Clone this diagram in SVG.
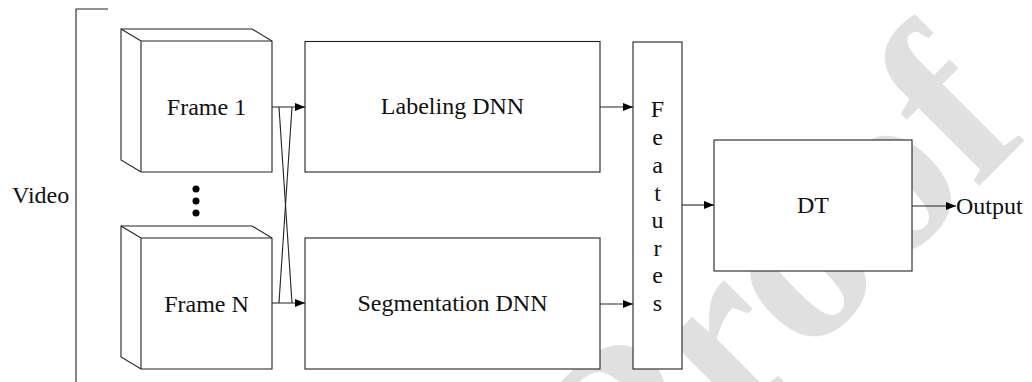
<svg xmlns="http://www.w3.org/2000/svg" width="1032" height="382" viewBox="0 0 1032 382">
  <style>
    .box { fill: #fff; stroke: #222; stroke-width: 1.1; }
    .edge { fill: none; stroke: #222; stroke-width: 1.1; }
    .lbl { font-family: "Liberation Serif", "Times New Roman", serif; font-size: 24px; fill: #111; }
    .mid { text-anchor: middle; }
    .wm { font-family: "Liberation Serif", "Times New Roman", serif; font-size: 240px; font-weight: bold; fill: #e0e0e0; }
  </style>
  <defs>
    <marker id="arr" viewBox="0 0 10 8" refX="10" refY="4" markerWidth="10" markerHeight="8" markerUnits="userSpaceOnUse" orient="auto">
      <path d="M0,0 L10,4 L0,8 Z" fill="#000"/>
    </marker>
  </defs>

  <!-- background stamp -->
  <text class="wm" transform="translate(629,536) rotate(-45)">Proof</text>

  <!-- bracket enclosing the frames -->
  <path class="edge" d="M108,9 H76 V382"/>
  <text class="lbl" x="12" y="203">Video</text>

  <g id="frame1">
    <path class="box" d="M121,29 H252 L272,41 V172 H141 L121,160 Z"/>
    <path class="edge" d="M121,29 L141,41 H272 M141,41 V172"/>
    <text class="lbl mid" x="206.5" y="115">Frame 1</text>
  </g>

  <g id="ellipsis">
    <circle cx="196" cy="189" r="3.5" fill="#000"/>
    <circle cx="196" cy="201" r="3.5" fill="#000"/>
    <circle cx="196" cy="213" r="3.5" fill="#000"/>
  </g>

  <g id="frameN">
    <path class="box" d="M121,226 H252 L272,238 V369 H141 L121,357 Z"/>
    <path class="edge" d="M121,226 L141,238 H272 M141,238 V369"/>
    <text class="lbl mid" x="206.5" y="311.5">Frame N</text>
  </g>

  <g id="labeling">
    <rect class="box" x="305" y="41.5" width="295" height="130.5"/>
    <text class="lbl mid" x="452.5" y="114">Labeling DNN</text>
  </g>

  <g id="segmentation">
    <rect class="box" x="305" y="238" width="295" height="131"/>
    <text class="lbl mid" x="452.5" y="310.5">Segmentation DNN</text>
  </g>

  <g id="features">
    <rect class="box" x="633" y="42" width="49" height="327"/>
    <text class="lbl mid" x="657.5" y="117">F</text>
    <text class="lbl mid" x="657.5" y="145">e</text>
    <text class="lbl mid" x="657.5" y="172.5">a</text>
    <text class="lbl mid" x="657.5" y="200.5">t</text>
    <text class="lbl mid" x="657.5" y="228">u</text>
    <text class="lbl mid" x="657.5" y="255.5">r</text>
    <text class="lbl mid" x="657.5" y="283">e</text>
    <text class="lbl mid" x="657.5" y="311">s</text>
  </g>

  <g id="dt">
    <rect class="box" x="714" y="140" width="198" height="131"/>
    <text class="lbl mid" x="813" y="213">DT</text>
  </g>

  <g id="output">
    <text class="lbl" x="956" y="214">Output</text>
  </g>

  <g id="connectors">
    <line class="edge" x1="272" y1="107" x2="305" y2="107" marker-end="url(#arr)"/>
    <line class="edge" x1="272" y1="303" x2="305" y2="303" marker-end="url(#arr)"/>
    <line class="edge" x1="279" y1="107" x2="292" y2="303"/>
    <line class="edge" x1="292" y1="107" x2="279" y2="303"/>
    <line class="edge" x1="600" y1="107" x2="633" y2="107" marker-end="url(#arr)"/>
    <line class="edge" x1="600" y1="304" x2="633" y2="304" marker-end="url(#arr)"/>
    <line class="edge" x1="682" y1="205" x2="714" y2="205" marker-end="url(#arr)"/>
    <line class="edge" x1="912" y1="206" x2="956" y2="206" marker-end="url(#arr)"/>
  </g>
</svg>
